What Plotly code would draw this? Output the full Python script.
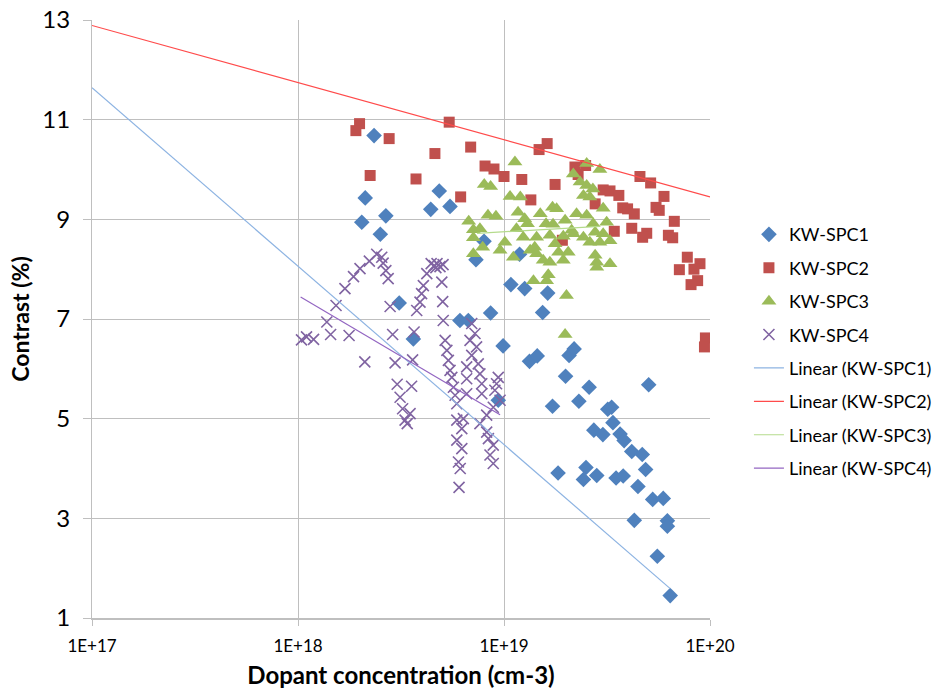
import plotly.graph_objects as go

# ---------------- data ----------------
spc1_x = [2.34e18, 2.12e18, 2.04e18, 2.67e18, 2.51e18, 4.41e18, 4.85e18, 5.47e18, 3.10e18, 3.63e18,
          6.11e18, 6.71e18, 8.61e18, 7.31e18, 8.0e18, 1.19e19, 1.08e19, 1.26e19, 1.63e19, 1.54e19,
          9.9e18, 1.33e19, 1.45e19, 2.07e19, 2.19e19, 1.99e19, 2.59e19, 5.04e19, 9.38e18, 1.72e19,
          2.31e19, 3.19e19, 3.33e19, 3.38e19, 2.73e19, 3.02e19, 3.66e19, 3.83e19, 4.17e19, 4.69e19,
          4.87e19, 1.83e19, 2.50e19, 2.43e19, 2.82e19, 3.50e19, 3.79e19, 4.47e19, 5.27e19, 5.93e19,
          4.29e19, 6.21e19, 6.21e19, 5.55e19, 6.41e19]
spc1_y = [10.68, 9.43, 8.94, 9.07, 8.70, 9.20, 9.57, 9.26, 7.32, 6.60,
          6.97, 6.97, 7.12, 8.19, 8.56, 8.30, 7.69, 7.61, 7.52, 7.13,
          6.46, 6.15, 6.26, 6.27, 6.40, 5.85, 5.63, 5.68, 5.37, 5.25,
          5.35, 5.19, 5.23, 4.92, 4.77, 4.68, 4.69, 4.56, 4.34, 4.28,
          3.98, 3.91, 4.02, 3.78, 3.86, 3.81, 3.85, 3.64, 3.38, 3.40,
          2.96, 2.95, 2.84, 2.24, 1.45]

spc2_x = [1.99e18, 1.91e18, 2.77e18, 4.62e18, 2.24e18, 3.74e18, 5.42e18, 6.89e18, 1.62e19, 1.48e19,
          8.09e18, 8.94e18, 1.0e19, 1.22e19, 1.77e19, 2.21e19, 2.49e19, 2.29e19, 4.57e19, 5.15e19,
          3.03e19, 3.27e19, 3.61e19, 5.98e19, 6.16e18, 1.35e19, 3.77e19, 3.98e19, 4.29e19, 5.47e19,
          5.67e19, 2.77e19, 6.71e19, 3.43e19, 4.17e19, 4.93e19, 4.71e19, 6.28e19, 6.59e19, 1.92e19,
          7.76e19, 8.94e19, 8.36e19, 7.10e19, 8.71e19, 8.09e19, 9.5e19, 9.4e19]
spc2_y = [10.92, 10.78, 10.62, 10.32, 9.88, 9.81, 10.95, 10.45, 10.52, 10.40,
          10.07, 10.01, 9.86, 9.80, 9.70, 10.05, 10.08, 9.90, 9.86, 9.73,
          9.59, 9.57, 9.48, 9.46, 9.45, 9.39, 9.23, 9.21, 9.11, 9.24,
          9.18, 9.31, 8.96, 8.76, 8.82, 8.72, 8.64, 8.68, 8.63, 8.58,
          8.24, 8.11, 8.00, 7.99, 7.77, 7.69, 6.62, 6.44]

spc3_x = [1.13e19, 2.52e19, 2.92e19, 2.17e19, 2.34e19, 8.02e18, 8.61e18, 2.52e19, 2.70e19, 1.07e19,
          1.20e19, 2.43e19, 2.61e19, 1.72e19, 1.80e19, 3.03e19, 8.36e18, 9.14e18, 1.17e19, 1.50e19,
          2.25e19, 2.52e19, 6.74e18, 1.26e19, 1.30e19, 1.60e19, 1.98e19, 2.71e19, 3.15e19, 7.10e18,
          7.64e18, 1.15e19, 1.73e19, 2.13e19, 2.77e19, 7.10e18, 1.24e19, 1.67e19, 1.94e19, 2.17e19,
          2.43e19, 3.03e19, 7.88e18, 1.01e19, 1.44e19, 1.77e19, 2.61e19, 2.92e19, 3.27e19, 9.57e18,
          1.34e19, 1.41e19, 1.84e19, 2.05e19, 7.10e18, 1.11e19, 1.44e19, 1.55e19, 1.67e19, 1.94e19,
          2.77e19, 2.82e19, 2.82e19, 3.27e19, 1.39e19, 1.61e19, 1.64e19, 2.01e19, 1.98e19]
spc3_y = [10.15, 10.12, 10.00, 9.91, 9.75, 9.70, 9.66, 9.68, 9.61, 9.46,
          9.45, 9.48, 9.45, 9.24, 9.21, 9.22, 9.08, 9.06, 9.14, 9.11,
          9.11, 9.08, 8.96, 9.01, 8.91, 8.91, 8.98, 8.91, 8.94, 8.79,
          8.81, 8.81, 8.90, 8.78, 8.74, 8.63, 8.64, 8.68, 8.66, 8.71,
          8.64, 8.71, 8.44, 8.54, 8.64, 8.51, 8.54, 8.54, 8.57, 8.38,
          8.38, 8.44, 8.34, 8.34, 8.31, 8.24, 8.31, 8.18, 8.14, 8.18,
          8.28, 8.14, 8.04, 8.11, 7.77, 7.77, 7.89, 7.47, 6.69]

spc4_x = [1.04e18, 1.10e18, 1.19e18, 1.38e18, 1.44e18, 1.53e18, 1.69e18, 1.77e18, 1.86e18, 2.0e18,
          2.11e18, 2.22e18, 2.41e18, 2.55e18, 2.59e18, 2.67e18, 2.74e18, 2.80e18, 2.88e18, 2.96e18,
          3.03e18, 3.13e18, 3.22e18, 3.31e18, 3.39e18, 3.50e18, 3.56e18, 3.60e18, 3.66e18, 3.77e18,
          3.91e18, 3.98e18, 4.06e18, 4.22e18, 4.43e18, 4.58e18, 4.73e18, 4.89e18, 5.06e18, 4.67e18,
          4.99e18, 5.04e18, 5.07e18, 5.18e18, 5.28e18, 5.37e18, 5.47e18, 5.58e18, 5.68e18, 5.79e18,
          5.90e18, 5.90e18, 6.24e18, 5.90e18, 6.24e18, 6.01e18, 6.13e18, 6.05e18, 6.97e18, 7.23e18,
          6.84e18, 7.36e18, 6.97e18, 7.50e18, 6.59e18, 7.64e18, 6.59e18, 7.80e18, 6.59e18, 7.80e18,
          6.35e18, 8.24e18, 7.64e18, 8.24e18, 8.40e18, 8.87e18, 8.55e18, 8.87e18, 9.38e18, 9.20e18,
          9.03e18, 9.57e18, 8.87e18]
spc4_y = [6.58, 6.64, 6.59, 6.94, 6.69, 7.27, 7.61, 6.67, 7.85, 8.01,
          6.14, 8.16, 8.30, 8.24, 8.12, 7.97, 7.81, 7.25, 6.69, 6.12,
          5.69, 5.43, 5.20, 4.97, 4.90, 5.10, 5.65, 6.18, 6.74, 7.17,
          7.34, 7.51, 7.67, 7.91, 8.11, 8.07, 8.11, 8.05, 8.09, 8.03,
          7.74, 7.35, 6.97, 6.57, 6.37, 6.17, 5.97, 5.83, 5.63, 5.47,
          5.30, 4.97, 4.80, 4.57, 4.40, 4.13, 4.00, 3.62, 6.91, 6.71,
          6.57, 6.44, 6.27, 6.10, 6.04, 5.90, 5.80, 5.70, 5.50, 5.50,
          5.00, 5.07, 4.90, 4.73, 4.60, 4.47, 4.27, 4.10, 5.83, 5.70,
          5.57, 5.37, 5.23]

# trendline end points
trend1_x = [1e17, 6.41e19]
trend1_y = [11.64, 1.59]
trend2_x = [1e17, 1e20]
trend2_y = [12.89, 9.45]
trend3_x = [7.4e18, 2.92e19]
trend3_y = [8.72, 8.86]
trend4_x = [1.03e18, 9.57e18]
trend4_y = [7.44, 5.08]

x_tick_vals = [1e17, 1e18, 1e19, 1e20]
x_tick_text = ["1E+17", "1E+18", "1E+19", "1E+20"]
y_tick_vals = [1, 3, 5, 7, 9, 11, 13]

FONT = "Lato, 'Open Sans', sans-serif"

fig = go.Figure()

fig.add_trace(go.Scatter(x=spc1_x, y=spc1_y, mode="markers", name="KW-SPC1", legendgroup="g1",
                         marker=dict(symbol="diamond", size=12, color="#4F81BD")))
fig.add_trace(go.Scatter(x=spc2_x, y=spc2_y, mode="markers", name="KW-SPC2", legendgroup="g2",
                         marker=dict(symbol="square", size=11, color="#C0504D")))
fig.add_trace(go.Scatter(x=spc3_x, y=spc3_y, mode="markers", name="KW-SPC3", legendgroup="g3",
                         marker=dict(symbol="triangle-up", size=13, color="#9BBB59")))
fig.add_trace(go.Scatter(x=spc4_x, y=spc4_y, mode="markers", name="KW-SPC4", legendgroup="g4",
                         marker=dict(symbol="x-thin", size=11, color="#8064A2",
                                     line=dict(color="#8064A2", width=1.6))))

fig.add_trace(go.Scatter(x=trend1_x, y=trend1_y, mode="lines", name="Linear (KW-SPC1)", legendgroup="g5",
                         line=dict(color="#8DB3E2", width=1.2)))
fig.add_trace(go.Scatter(x=trend2_x, y=trend2_y, mode="lines", name="Linear (KW-SPC2)", legendgroup="g6",
                         line=dict(color="#FF4B4B", width=1.2)))
fig.add_trace(go.Scatter(x=trend3_x, y=trend3_y, mode="lines", name="Linear (KW-SPC3)", legendgroup="g7",
                         line=dict(color="#B5DB8C", width=1.2)))
fig.add_trace(go.Scatter(x=trend4_x, y=trend4_y, mode="lines", name="Linear (KW-SPC4)", legendgroup="g8",
                         line=dict(color="#9366C2", width=1.2)))

fig.update_layout(
    width=939, height=697,
    margin=dict(l=92, r=229, t=20, b=79, autoexpand=False),
    paper_bgcolor="white", plot_bgcolor="white",
    font=dict(family=FONT, color="#000000"),
    showlegend=True,
    legend=dict(x=1.063, y=0.672, xanchor="left", yanchor="top",
                font=dict(family=FONT, size=18, color="#000000"),
                tracegroupgap=7, traceorder="grouped", bgcolor="rgba(0,0,0,0)"),
)

fig.update_xaxes(
    type="log", range=[17, 20],
    tickvals=x_tick_vals, ticktext=x_tick_text,
    ticks="outside", ticklen=6, tickcolor="#BFBFBF", tickwidth=1,
    showgrid=True, gridcolor="#BFBFBF", gridwidth=1,
    showline=True, linecolor="#BFBFBF", linewidth=1.5,
    zeroline=False,
    tickfont=dict(family=FONT, size=17, color="#000000"),
    ticklabelstandoff=6,
    title=dict(text="Dopant concentration (cm-3)", standoff=12,
               font=dict(family=FONT, size=24, color="#000000", weight="bold")),
)
fig.update_yaxes(
    range=[1, 13], tickvals=y_tick_vals,
    ticks="outside", ticklen=8, tickcolor="#BFBFBF", tickwidth=1,
    showgrid=True, gridcolor="#BFBFBF", gridwidth=1,
    showline=True, linecolor="#BFBFBF", linewidth=1,
    zeroline=False,
    tickfont=dict(family=FONT, size=24, color="#000000"),
    ticklabelstandoff=8,
    title=dict(text="Contrast (%)", standoff=6,
               font=dict(family=FONT, size=23, color="#000000", weight="bold")),
)

fig.write_html("out.html")
